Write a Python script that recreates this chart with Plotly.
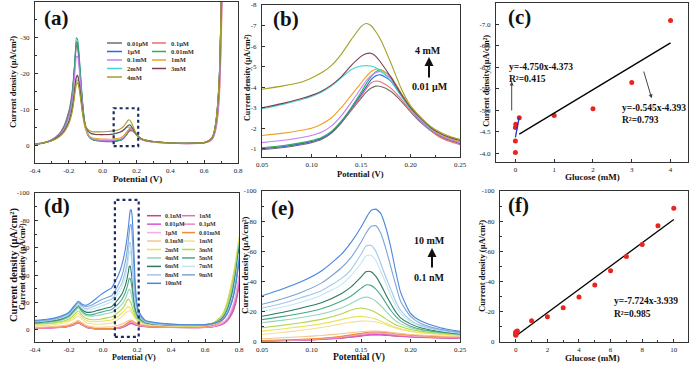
import plotly.graph_objects as go

W, H = 692, 366
FONT = "Liberation Serif"

# ---------------- Panel (a)/(b) data ----------------
A_LABELS = ["0.01μM", "0.1μM", "1μM", "0.01mM", "0.1mM", "1mM", "2mM", "3mM", "4mM"]
A_COLORS = ["#6e6e6e", "#f06a6a", "#3563e0", "#2fae62", "#c47ef2", "#f0a126", "#3fd6d6", "#7d3e4e", "#a3a128"]

A_LEFT_X = [-0.4, -0.35, -0.3, -0.26, -0.23, -0.21, -0.195, -0.18, -0.17, -0.162, -0.155, -0.148,
            -0.14, -0.13, -0.12, -0.11, -0.1, -0.085, -0.07, -0.05, -0.02, 0.01, 0.03]
A_LEFT_Y = [
    [-0.3, -0.7, -1.6, -3.0, -5.2, -7.8, -10.5, -15.0, -20.0, -24.8, -28.0, -27.3, -23.5, -17.5, -11.5, -7.2, -4.6, -2.6, -1.8, -1.4, -1.2, -1.05, -0.98],
    [-0.2, -0.6, -1.4, -2.7, -4.7, -7.0, -9.5, -13.8, -19.0, -24.0, -27.8, -27.5, -24.0, -18.0, -12.0, -7.5, -4.8, -2.7, -1.8, -1.4, -1.2, -1.05, -1.0],
    [-0.2, -0.6, -1.4, -2.7, -4.6, -6.9, -9.3, -13.8, -19.2, -24.8, -28.8, -28.3, -24.8, -18.6, -12.3, -7.7, -4.9, -2.8, -1.8, -1.4, -1.2, -1.05, -1.0],
    [-0.2, -0.5, -1.3, -2.6, -4.5, -6.8, -9.2, -13.8, -19.5, -25.5, -30.0, -29.5, -25.8, -19.2, -12.6, -7.8, -5.0, -2.8, -1.8, -1.4, -1.2, -1.08, -1.03],
    [-0.2, -0.6, -1.4, -2.6, -4.4, -6.5, -8.7, -12.5, -17.0, -21.5, -24.8, -24.8, -22.0, -16.8, -11.2, -7.0, -4.6, -2.8, -2.0, -1.6, -1.4, -1.32, -1.3],
    [-0.3, -0.6, -1.3, -2.4, -3.8, -5.4, -7.0, -9.8, -12.8, -15.8, -17.8, -18.2, -16.6, -13.0, -9.0, -6.0, -4.2, -2.9, -2.2, -1.9, -1.75, -1.68, -1.66],
    [-0.3, -0.6, -1.3, -2.4, -3.8, -5.5, -7.2, -10.2, -13.5, -16.8, -18.8, -19.2, -17.5, -13.8, -9.8, -6.8, -5.0, -3.8, -3.2, -3.0, -2.9, -2.9, -2.92],
    [-0.3, -0.6, -1.3, -2.4, -3.8, -5.5, -7.3, -10.4, -13.8, -17.2, -19.2, -19.5, -17.8, -14.0, -10.0, -7.0, -5.2, -3.9, -3.3, -3.05, -2.95, -2.95, -2.97],
    [-0.3, -0.6, -1.2, -2.2, -3.5, -5.0, -6.6, -9.3, -12.3, -15.2, -17.0, -17.4, -16.0, -12.8, -9.3, -6.8, -5.3, -4.3, -3.9, -3.7, -3.7, -3.75, -3.82],
]

B_X = [0.05, 0.07, 0.09, 0.10, 0.11, 0.12, 0.13, 0.14, 0.15, 0.155, 0.16, 0.165, 0.17,
       0.18, 0.19, 0.20, 0.21, 0.22, 0.23, 0.24, 0.25]
B_Y = [
    [-0.95, -1.05, -1.2, -1.3, -1.45, -1.75, -2.25, -2.85, -3.45, -3.75, -3.95, -4.05, -4.03, -3.8, -3.35, -2.8, -2.3, -1.9, -1.6, -1.4, -1.25],
    [-1.0, -1.1, -1.25, -1.35, -1.5, -1.8, -2.3, -2.9, -3.55, -3.9, -4.2, -4.3, -4.25, -3.95, -3.45, -2.85, -2.35, -1.9, -1.55, -1.35, -1.2],
    [-1.0, -1.1, -1.25, -1.35, -1.5, -1.8, -2.3, -2.95, -3.65, -4.0, -4.35, -4.55, -4.6, -4.3, -3.65, -2.95, -2.4, -1.95, -1.65, -1.45, -1.3],
    [-1.05, -1.15, -1.3, -1.4, -1.55, -1.85, -2.35, -3.0, -3.75, -4.15, -4.5, -4.75, -4.85, -4.5, -3.75, -3.0, -2.45, -2.0, -1.7, -1.55, -1.45],
    [-1.3, -1.4, -1.55, -1.65, -1.8, -2.1, -2.6, -3.25, -3.95, -4.3, -4.55, -4.72, -4.75, -4.4, -3.7, -2.95, -2.4, -1.95, -1.65, -1.45, -1.3],
    [-1.65, -1.75, -1.9, -2.0, -2.2, -2.5, -3.0, -3.6, -4.2, -4.5, -4.75, -4.88, -4.85, -4.5, -3.75, -3.0, -2.45, -2.0, -1.7, -1.5, -1.35],
    [-2.95, -3.15, -3.4, -3.55, -3.75, -4.05, -4.45, -4.85, -5.03, -5.05, -5.03, -4.95, -4.8, -4.3, -3.6, -2.95, -2.45, -2.0, -1.75, -1.55, -1.45],
    [-3.0, -3.2, -3.45, -3.6, -3.8, -4.1, -4.5, -5.05, -5.5, -5.63, -5.65, -5.5, -5.2, -4.5, -3.7, -3.0, -2.5, -2.05, -1.75, -1.55, -1.4],
    [-3.9, -4.05, -4.25, -4.45, -4.7, -5.05, -5.6, -6.3, -6.95, -7.1, -7.0, -6.7, -6.3, -5.2, -4.0, -3.1, -2.55, -2.1, -1.8, -1.6, -1.45],
]

A_RIGHT_X = [0.3, 0.4, 0.5, 0.6, 0.63, 0.65, 0.66, 0.67, 0.68, 0.69, 0.695, 0.7, 0.71]
A_RIGHT_Y = [
    [-0.9, -0.6, -0.5, -0.7, -1.3, -2.3, -3.8, -6.5, -11.0, -19.0, -27.0, -37.0, -60.0],
    [-0.8, -0.5, -0.4, -0.6, -1.0, -1.8, -2.8, -4.6, -7.8, -13.5, -19.5, -27.0, -48.0],
    [-0.9, -0.6, -0.5, -0.7, -1.3, -2.2, -3.6, -6.2, -10.5, -18.5, -26.0, -36.0, -58.0],
    [-1.0, -0.6, -0.5, -0.7, -1.3, -2.3, -3.9, -6.7, -11.5, -19.5, -28.0, -38.0, -61.0],
    [-0.8, -0.5, -0.4, -0.6, -1.1, -1.9, -3.0, -5.0, -8.5, -15.0, -21.5, -30.0, -52.0],
    [-0.9, -0.6, -0.5, -0.7, -1.3, -2.3, -3.8, -6.5, -11.0, -19.0, -27.0, -37.0, -60.0],
    [-1.0, -0.6, -0.5, -0.7, -1.3, -2.4, -4.0, -6.8, -11.5, -19.5, -27.5, -38.0, -61.0],
    [-1.0, -0.6, -0.5, -0.7, -1.3, -2.3, -3.8, -6.6, -11.2, -19.2, -27.2, -37.5, -60.0],
    [-1.0, -0.6, -0.5, -0.7, -1.4, -2.4, -4.0, -6.9, -11.8, -20.0, -28.0, -38.5, -62.0],
]

# ---------------- Panel (c) data ----------------
C_X = [0.00001, 0.0001, 0.001, 0.01, 0.1, 1, 2, 3, 4]
C_Y = [-4.02, -4.29, -4.60, -4.68, -4.83, -4.88, -5.04, -5.65, -7.09]
C_FIT_LOW = {"slope": -4.750, "icpt": -4.373, "x": [0.0, 0.1]}
C_FIT_HIGH = {"slope": -0.545, "icpt": -4.393, "x": [0.1, 4.0]}

# ---------------- Panel (d)/(e) data ----------------
D_LABELS = ["0.1nM", "1nM", "0.01μM", "0.1μM", "1μM", "0.01mM", "0.1mM", "1mM", "2mM",
            "3mM", "4mM", "5mM", "6mM", "7mM", "8mM", "9mM", "10mM"]
D_COLORS = ["#c9457f", "#d9789a", "#e04fd6", "#e68cc6", "#f2b0dc", "#f08a3c", "#f7c58a",
            "#f3df98", "#ece35a", "#b3d64a", "#96d6b8", "#48a98a", "#2b7a5c", "#c3e7ef",
            "#a4c6e8", "#7aa4d6", "#4a86de"]

D_LEFT_X = [-0.4, -0.32, -0.25, -0.2, -0.17, -0.145, -0.125, -0.1, -0.07, -0.04, -0.01, 0.02]
D_LEFT_Y = [
    [-1.2, -1.4, -1.9, -2.6, -3.8, -5.2, -3.8, -2.0, -1.1, -0.7, -0.6, -0.6],
    [-1.2, -1.5, -2.0, -2.7, -4.0, -5.4, -4.0, -2.1, -1.2, -0.8, -0.7, -0.7],
    [-1.3, -1.5, -2.0, -2.8, -4.0, -5.5, -4.0, -2.2, -1.2, -0.8, -0.7, -0.7],
    [-1.4, -1.6, -2.1, -2.9, -4.2, -5.6, -4.2, -2.3, -1.3, -0.9, -0.8, -0.8],
    [-1.5, -1.7, -2.2, -3.0, -4.3, -5.8, -4.3, -2.4, -1.4, -1.0, -0.9, -0.9],
    [-1.5, -1.8, -2.3, -3.0, -4.5, -6.0, -4.5, -2.5, -1.5, -1.1, -1.0, -1.0],
    [-2.0, -2.3, -3.0, -4.0, -5.5, -7.0, -5.5, -3.5, -2.5, -2.0, -2.0, -2.1],
    [-3.0, -3.5, -4.5, -6.0, -8.0, -10.0, -8.0, -5.5, -4.5, -4.2, -4.3, -4.6],
    [-4.0, -4.5, -5.5, -7.0, -9.5, -12.0, -9.5, -7.0, -6.0, -6.0, -6.3, -6.8],
    [-4.5, -5.0, -6.0, -8.0, -11.0, -14.0, -11.0, -8.5, -7.5, -7.5, -8.0, -8.8],
    [-5.0, -5.5, -7.0, -9.5, -13.0, -16.0, -13.0, -10.5, -10.0, -10.5, -11.0, -12.0],
    [-5.0, -6.0, -7.5, -10.0, -14.0, -17.0, -14.0, -11.5, -11.0, -12.0, -13.0, -14.0],
    [-5.5, -6.5, -8.0, -11.0, -15.0, -18.0, -15.0, -13.0, -13.0, -14.0, -15.0, -16.0],
    [-6.0, -7.0, -8.5, -11.5, -15.5, -18.5, -16.0, -14.5, -15.0, -16.0, -17.5, -19.0],
    [-6.0, -7.0, -9.0, -12.0, -16.0, -19.5, -17.0, -15.5, -16.5, -18.0, -19.5, -21.0],
    [-6.5, -7.5, -9.5, -12.5, -17.0, -20.0, -18.0, -17.0, -18.0, -20.0, -22.0, -23.5],
    [-7.0, -8.0, -10.0, -13.0, -17.5, -21.0, -19.0, -18.0, -20.0, -23.0, -26.0, -28.5],
]

E_X = [0.05, 0.07, 0.09, 0.11, 0.13, 0.14, 0.15, 0.155, 0.16, 0.165, 0.17, 0.175, 0.18,
       0.185, 0.19, 0.2, 0.21, 0.23, 0.25]
E_Y = [
    [-0.6, -0.8, -1.2, -1.7, -2.5, -3.2, -3.9, -4.3, -4.6, -4.7, -4.6, -4.4, -4.2, -3.9, -3.7, -3.3, -3.0, -2.7, -2.4],
    [-0.7, -0.9, -1.3, -1.8, -2.7, -3.4, -4.1, -4.5, -4.8, -4.9, -4.8, -4.6, -4.3, -4.0, -3.8, -3.4, -3.1, -2.8, -2.5],
    [-0.7, -1.0, -1.4, -1.9, -2.9, -3.6, -4.4, -4.8, -5.1, -5.2, -5.1, -4.9, -4.6, -4.3, -4.0, -3.6, -3.3, -2.9, -2.6],
    [-0.8, -1.1, -1.5, -2.1, -3.2, -4.0, -4.9, -5.4, -5.8, -5.9, -5.8, -5.5, -5.1, -4.7, -4.4, -3.9, -3.6, -3.1, -2.8],
    [-0.9, -1.2, -1.6, -2.3, -3.5, -4.4, -5.3, -5.8, -6.2, -6.3, -6.2, -5.9, -5.5, -5.1, -4.7, -4.2, -3.8, -3.3, -2.9],
    [-1.0, -1.3, -1.8, -2.5, -3.8, -4.7, -5.7, -6.2, -6.6, -6.8, -6.7, -6.4, -6.0, -5.5, -5.1, -4.5, -4.1, -3.5, -3.1],
    [-2.2, -2.8, -3.5, -4.3, -5.5, -6.2, -6.8, -7.1, -7.3, -7.3, -7.1, -6.8, -6.4, -6.0, -5.6, -5.0, -4.6, -4.0, -3.6],
    [-5.0, -6.3, -7.8, -9.6, -12.0, -13.1, -13.8, -13.9, -13.7, -13.2, -12.4, -11.4, -10.3, -9.2, -8.3, -7.0, -6.1, -5.0, -4.2],
    [-7.2, -8.6, -10.2, -12.0, -14.8, -16.3, -17.0, -16.6, -16.0, -15.0, -13.8, -12.4, -11.0, -9.8, -8.8, -7.3, -6.4, -5.3, -4.4],
    [-9.4, -11.0, -12.8, -15.0, -18.5, -21.2, -22.5, -22.0, -21.0, -19.5, -17.5, -15.3, -13.3, -11.5, -10.2, -8.3, -7.2, -5.8, -4.7],
    [-12.7, -14.3, -16.2, -18.5, -22.5, -25.5, -29.0, -29.7, -29.0, -27.0, -24.0, -20.5, -17.0, -14.0, -12.0, -9.5, -8.0, -6.2, -5.0],
    [-14.8, -16.8, -19.0, -22.0, -27.0, -30.5, -35.5, -37.8, -37.5, -35.0, -31.0, -26.0, -21.0, -17.0, -14.0, -10.5, -8.5, -6.5, -5.2],
    [-17.0, -19.5, -22.5, -26.0, -32.0, -36.5, -43.0, -46.5, -46.5, -43.5, -38.0, -31.5, -25.5, -20.0, -16.0, -12.0, -9.5, -7.0, -5.5],
    [-20.3, -23.0, -26.5, -31.0, -38.0, -44.0, -52.0, -57.0, -57.5, -54.0, -47.0, -39.0, -31.0, -24.0, -19.0, -13.5, -10.5, -7.5, -5.8],
    [-22.5, -25.5, -29.5, -34.0, -42.0, -48.0, -58.0, -63.5, -64.0, -60.0, -52.0, -43.0, -35.0, -27.0, -21.0, -14.5, -11.0, -8.0, -6.0],
    [-25.0, -28.5, -33.0, -39.0, -49.0, -56.0, -66.0, -72.0, -76.5, -77.0, -72.0, -62.0, -50.0, -38.0, -27.0, -17.0, -12.5, -8.5, -6.5],
    [-30.6, -35.0, -40.0, -47.0, -58.0, -66.0, -76.0, -82.0, -87.0, -88.0, -85.0, -76.0, -63.0, -47.0, -33.0, -19.0, -14.0, -9.5, -7.0],
]

D_RIGHT_X = [0.3, 0.4, 0.5, 0.6, 0.65, 0.7, 0.73, 0.76, 0.78, 0.8]
D_RIGHT_Y = [
    [-2.1, -1.8, -1.7, -1.9, -2.4, -4.0, -6.5, -12.0, -19.0, -32.0],
    [-2.2, -1.8, -1.7, -1.9, -2.5, -4.3, -7.0, -13.0, -20.5, -34.0],
    [-2.3, -1.9, -1.8, -2.0, -2.6, -4.5, -7.5, -14.0, -22.0, -35.0],
    [-2.4, -2.0, -1.8, -2.0, -2.7, -4.8, -8.0, -15.5, -24.0, -38.0],
    [-2.5, -2.0, -1.9, -2.1, -2.8, -5.0, -8.5, -16.5, -25.0, -40.0],
    [-2.7, -2.2, -2.0, -2.4, -3.4, -6.5, -12.0, -23.0, -34.0, -50.0],
    [-3.2, -2.7, -2.5, -3.0, -4.5, -9.5, -18.0, -33.0, -47.0, -64.0],
    [-3.6, -3.0, -2.8, -3.4, -5.0, -10.5, -20.0, -36.0, -50.0, -68.0],
    [-3.8, -3.2, -3.0, -3.5, -5.2, -11.0, -20.5, -36.5, -50.0, -67.0],
    [-4.0, -3.3, -3.0, -3.5, -5.0, -10.0, -19.0, -34.0, -47.0, -64.0],
    [-4.2, -3.5, -3.2, -3.6, -4.8, -9.0, -16.0, -30.0, -44.0, -63.0],
    [-4.3, -3.6, -3.3, -3.6, -4.8, -8.5, -15.0, -28.0, -42.0, -61.0],
    [-4.4, -3.7, -3.4, -3.7, -4.8, -8.0, -14.0, -26.0, -40.0, -59.0],
    [-4.6, -3.8, -3.5, -3.8, -4.8, -7.5, -13.0, -24.0, -37.0, -56.0],
    [-4.8, -3.9, -3.6, -3.8, -4.8, -7.5, -12.5, -23.0, -35.0, -54.0],
    [-5.2, -4.1, -3.7, -3.9, -4.8, -7.3, -12.0, -22.0, -34.0, -52.0],
    [-5.6, -4.3, -3.8, -4.0, -4.9, -7.2, -11.5, -21.0, -32.0, -50.0],
]

# ---------------- Panel (f) data ----------------
F_X = [1e-7, 1e-6, 1e-5, 1e-4, 1e-3, 0.01, 0.1, 1, 2, 3, 4, 5, 6, 7, 8, 9, 10]
F_Y = [-4.5, -4.8, -5.1, -5.8, -6.2, -6.8, -7.3, -14.1, -16.7, -22.6, -29.8, -37.8, -47.2,
       -56.7, -64.6, -77.0, -88.5]
F_FIT = {"slope": -7.724, "icpt": -3.939, "x": [0.0, 10.0]}

# ---------------- helpers ----------------
def px(x):
    return x / W


def py(y):
    return 1 - y / H


fig = go.Figure()
LINE_W = 1.1


def curve(xs, ys, color, ax):
    fig.add_trace(go.Scatter(x=xs, y=ys, mode="lines", line=dict(color=color, width=LINE_W, shape="spline", smoothing=0.6),
                             xaxis="x" + ax, yaxis="y" + ax, showlegend=False, hoverinfo="skip"))


for i in range(len(A_LABELS)):
    curve(A_LEFT_X + B_X + A_RIGHT_X, A_LEFT_Y[i] + B_Y[i] + A_RIGHT_Y[i], A_COLORS[i], "")
for i in range(len(A_LABELS)):
    curve(B_X, B_Y[i], A_COLORS[i], "2")
fig.add_trace(go.Scatter(x=C_X, y=C_Y, mode="markers", marker=dict(color="#e8261f", size=5),
                         xaxis="x3", yaxis="y3", showlegend=False))
fig.add_trace(go.Scatter(x=C_FIT_HIGH["x"], y=[C_FIT_HIGH["slope"] * v + C_FIT_HIGH["icpt"] for v in C_FIT_HIGH["x"]],
                         mode="lines", line=dict(color="black", width=1.3), xaxis="x3", yaxis="y3", showlegend=False))
fig.add_trace(go.Scatter(x=C_FIT_LOW["x"], y=[C_FIT_LOW["slope"] * v + C_FIT_LOW["icpt"] for v in C_FIT_LOW["x"]],
                         mode="lines", line=dict(color="#2233cc", width=1.3), xaxis="x3", yaxis="y3", showlegend=False))
for i in range(len(D_LABELS)):
    curve(D_LEFT_X + E_X + D_RIGHT_X, D_LEFT_Y[i] + E_Y[i] + D_RIGHT_Y[i], D_COLORS[i], "4")
for i in range(len(D_LABELS)):
    curve(E_X, E_Y[i], D_COLORS[i], "5")
fig.add_trace(go.Scatter(x=F_FIT["x"], y=[F_FIT["slope"] * v + F_FIT["icpt"] for v in F_FIT["x"]],
                         mode="lines", line=dict(color="black", width=1.3), xaxis="x6", yaxis="y6", showlegend=False))
fig.add_trace(go.Scatter(x=F_X, y=F_Y, mode="markers", marker=dict(color="#e8261f", size=5),
                         xaxis="x6", yaxis="y6", showlegend=False))

TICKFONT = dict(family=FONT, size=7, color="#222222")


def axis(dom, rng, vals, texts, anchor, minor=None, is_y=False):
    d = dict(domain=dom, range=rng, tickvals=vals, ticktext=texts, anchor=anchor, showline=True, mirror=True,
             linecolor="#333333", linewidth=1.2, ticks="inside", ticklen=3, tickwidth=1, tickcolor="#333333",
             tickfont=TICKFONT, showgrid=False, zeroline=False, fixedrange=True,
             ticklabelstandoff=3 if is_y else 0, automargin=False)
    if minor is not None:
        d["minor"] = dict(tickvals=minor, ticks="inside", ticklen=2, tickcolor="#333333", showgrid=False)
    return d


def xd(l, r):
    return [px(l), px(r)]


def yd(t, b):
    return [py(b), py(t)]


A_XT = [-0.4, -0.2, 0.0, 0.2, 0.4, 0.6, 0.8]
A_XL = ["-0.4", "-0.2", "0.0", "0.2", "0.4", "0.6", "0.8"]
A_YT = [-40, -30, -20, -10, 0]
B_XT = [0.05, 0.10, 0.15, 0.20, 0.25]
B_XL = ["0.05", "0.10", "0.15", "0.20", "0.25"]
B_YT = [-8, -7, -6, -5, -4, -3, -2, -1]
C_XT = [0, 1, 2, 3, 4]
C_YT = [-7.5, -7.0, -6.5, -6.0, -5.5, -5.0, -4.5, -4.0]
C_YL = ["-7.5", "-7.0", "-6.5", "-6.0", "-5.5", "-5.0", "-4.5", "-4.0"]
D_YT = [-100, -80, -60, -40, -20, 0]
F_XT = [0, 2, 4, 6, 8, 10]

fig.update_layout(
    xaxis=axis(xd(35, 238), [-0.4, 0.8], A_XT, A_XL, "y", [-0.3, -0.1, 0.1, 0.3, 0.5, 0.7]),
    yaxis=axis(yd(2, 163), [5, -40], A_YT, [str(v) for v in A_YT], "x", [-35, -25, -15, -5], True),
    xaxis2=axis(xd(262, 460), [0.05, 0.25], B_XT, B_XL, "y2", [0.075, 0.125, 0.175, 0.225]),
    yaxis2=axis(yd(5, 157), [-0.6, -8], B_YT, [str(v) for v in B_YT], "x2", None, True),
    xaxis3=axis(xd(496, 688), [-0.5, 4.45], C_XT, [str(v) for v in C_XT], "y3"),
    yaxis3=axis(yd(3, 162), [-3.8, -7.5], C_YT, C_YL, "x3", None, True),
    xaxis4=axis(xd(35, 239), [-0.4, 0.8], A_XT, A_XL, "y4", [-0.3, -0.1, 0.1, 0.3, 0.5, 0.7]),
    yaxis4=axis(yd(193, 342), [8.8, -100], D_YT, [str(v) for v in D_YT], "x4", [-90, -70, -50, -30, -10], True),
    xaxis5=axis(xd(262, 460), [0.05, 0.25], B_XT, B_XL, "y5", [0.075, 0.125, 0.175, 0.225]),
    yaxis5=axis(yd(191, 342), [0, -100], D_YT, [str(v) for v in D_YT], "x5", [-90, -70, -50, -30, -10], True),
    xaxis6=axis(xd(500, 688), [-1, 10.9], F_XT, [str(v) for v in F_XT], "y6", [1, 3, 5, 7, 9]),
    yaxis6=axis(yd(191, 342), [0, -100], D_YT, [str(v) for v in D_YT], "x6", [-90, -70, -50, -30, -10], True),
    width=W, height=H, margin=dict(l=0, r=0, t=0, b=0, autoexpand=False),
    paper_bgcolor="white", plot_bgcolor="white", showlegend=False,
)

ann = []
shapes = []


def text(x, y, s, size, anchor="center", angle=0, color="#111111"):
    ann.append(dict(x=px(x), y=py(y), xref="paper", yref="paper", text=s, showarrow=False,
                    xanchor=anchor, yanchor="middle", textangle=angle,
                    font=dict(family=FONT, size=size, color=color)))


def arrow(hx, hy, tx, ty, width=1.0, color="#222222", size=1.0):
    ann.append(dict(x=px(hx), y=py(hy), xref="paper", yref="paper", text="", showarrow=True,
                    ax=tx - hx, ay=ty - hy, arrowhead=2, arrowwidth=width, arrowsize=size, arrowcolor=color))


for lbl, x, y in [("(a)", 42, 18), ("(b)", 271, 19), ("(c)", 506, 17), ("(d)", 42, 206), ("(e)", 269, 208), ("(f)", 506, 205)]:
    text(x, y, "<b>%s</b>" % lbl, 21, "left")

YT = "<b>Current density (μA/cm²)</b>"
text(13, 82, YT, 8.5, angle=-90)
text(247, 77, YT, 8, angle=-90)
text(486, 81, YT, 8.5, angle=-90)
text(14, 265, YT, 10.5, angle=-90)
text(22, 267, YT, 8, angle=-90)
text(245, 265, YT, 9, angle=-90)
text(482, 266, YT, 8.5, angle=-90)

text(137, 179, "<b>Potential (V)</b>", 9)
text(360, 173.5, "<b>Potential (V)</b>", 8.5)
text(592, 177, "<b>Glucose (mM)</b>", 9)
text(134, 357, "<b>Potential (V)</b>", 8)
text(359, 357.5, "<b>Potential (V)</b>", 9.5)
text(592, 358, "<b>Glucose (mM)</b>", 9)

text(428, 50, "<b>4 mM</b>", 10)
text(430, 87, "<b>0.01 μM</b>", 10)
arrow(429, 57, 429, 79, width=2, size=0.9, color="#111111")
text(429, 241, "<b>10 mM</b>", 10)
text(429, 277, "<b>0.1 nM</b>", 10)
arrow(432, 248, 432, 269, width=2, size=0.9, color="#111111")

text(507, 67, "<b>y=-4.750x-4.373</b>", 9.5, "left")
text(507, 79.5, "<b>R²=0.415</b>", 9.5, "left")
text(620, 108.5, "<b>y=-0.545x-4.393</b>", 9.5, "left")
text(620, 120.5, "<b>R²=0.793</b>", 9.5, "left")
arrow(511.7, 81.5, 511.7, 112, width=1, size=0.8, color="#444444")
arrow(651.7, 98.3, 643.3, 70, width=1, size=0.8, color="#444444")

text(612, 301, "<b>y=-7.724x-3.939</b>", 9.5, "left")
text(612, 314, "<b>R²=0.985</b>", 9.5, "left")

LEG_A_ROWS = [43, 51.5, 60, 68.5, 77]
for i, (lab, col) in enumerate(zip(A_LABELS, A_COLORS)):
    r, c = i // 2, i % 2
    y = LEG_A_ROWS[r]
    x0, x1, tx = (107, 122, 125) if c == 0 else (152, 166, 169)
    shapes.append(dict(type="line", xref="paper", yref="paper", x0=px(x0), x1=px(x1), y0=py(y), y1=py(y),
                       line=dict(color=col, width=1.5)))
    text(tx, y, "<b>%s</b>" % lab, 6.5, "left", color="#333333")

for i, (lab, col) in enumerate(zip(D_LABELS, D_COLORS)):
    r, c = i // 2, i % 2
    y = 215.7 + 8.45 * r
    x0, x1, tx = (147, 161, 163) if c == 0 else (182, 195, 197)
    shapes.append(dict(type="line", xref="paper", yref="paper", x0=px(x0), x1=px(x1), y0=py(y), y1=py(y),
                       line=dict(color=col, width=1.5)))
    text(tx, y, "<b>%s</b>" % lab, 6, "left", color="#333333")

shapes.append(dict(type="rect", xref="x", yref="y", x0=0.065, x1=0.21, y0=0.3, y1=-10.3,
                   line=dict(color="#1d2a66", width=2.2, dash="dot")))
shapes.append(dict(type="rect", xref="x4", yref="y4", x0=0.07, x1=0.21, y0=5, y1=-95,
                   line=dict(color="#1d2a66", width=2.2, dash="dot")))

fig.update_layout(annotations=ann, shapes=shapes)
fig.write_html("out.html", config={"displayModeBar": False},
               post_script="document.body.style.margin='0px';document.body.style.padding='0px';")
